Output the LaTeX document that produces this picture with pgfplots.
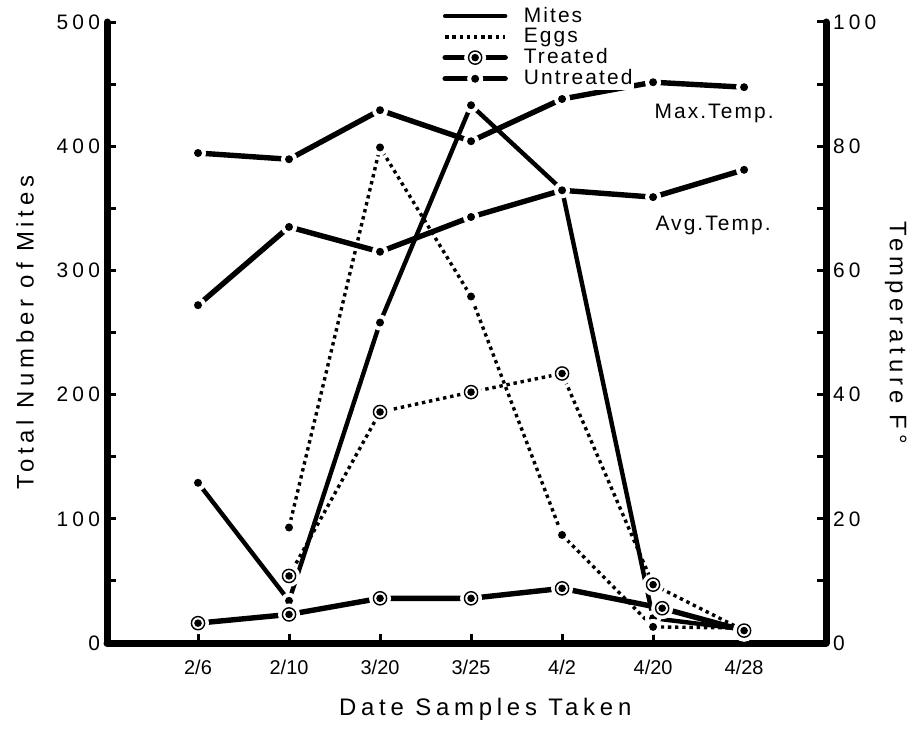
\documentclass[border=0pt]{standalone}
\usepackage{fontspec}
\setmainfont{Liberation Sans}
\newfontfamily\spaced{Liberation Sans}[LetterSpace=20]
\newfontfamily\lspaced{Liberation Sans}[LetterSpace=10]
\usepackage{pgfplots}
\pgfplotsset{compat=1.18}

% dot with a white ring round it (gaps in the line)
\pgfdeclareplotmark{hdot}{%
  \pgfsetfillcolor{white}%
  \pgfpathcircle{\pgfpointorigin}{4bp}\pgfusepath{fill}%
  \pgfsetfillcolor{black}%
  \pgfpathcircle{\pgfpointorigin}{2bp}\pgfusepath{fill}%
}
% circled dot with a white ring round it
\pgfdeclareplotmark{hcirc}{%
  \pgfsetfillcolor{white}%
  \pgfpathcircle{\pgfpointorigin}{5.5bp}\pgfusepath{fill}%
  \pgfsetdash{}{0pt}\pgfsetlinewidth{0.7bp}\pgfsetstrokecolor{black}%
  \pgfpathcircle{\pgfpointorigin}{3.3bp}\pgfusepath{stroke}%
  \pgfsetfillcolor{black}%
  \pgfpathcircle{\pgfpointorigin}{1.9bp}\pgfusepath{fill}%
}

\pgfplotsset{
  base/.style={
    width=359.5bp, height=310.5bp, scale only axis,
    xmin=-1, xmax=6.9, clip=false, axis on top,
    axis line style={line width=3.5bp, line cap=round},
    tick style={line width=1.5bp, black},
    tick align=inside,
    major tick length=4.5bp, minor tick length=4.5bp,
    /pgf/number format/assume math mode=true,
    yticklabel style={font=\spaced\fontsize{10.5}{12}\selectfont},
    label style={font=\spaced\fontsize{12}{14}\selectfont},
  },
  mites/.style={line width=2.2bp, line cap=round},
  eggs/.style={line width=1.7bp, dash pattern=on 1.7bp off 1.9bp},
  thick line/.style={line width=2.7bp, line cap=round},
}

\begin{document}
\begin{tikzpicture}
\begin{axis}[base,
  axis x line*=bottom, axis y line*=left,
  ymin=0, ymax=500,
  ytick={0,100,...,500}, minor ytick={50,150,...,450},
  xtick={0,...,6},
  xticklabels={2/6,2/10,3/20,3/25,4/2,4/20,4/28},
  xticklabel style={font=\fontsize{10}{12}\selectfont, yshift=-5bp},
  xlabel={Date Samples Taken},
  xlabel style={at={(axis description cs:0.526,0)}, anchor=center, yshift=-33bp},
  ylabel={Total Number of Mites},
  ylabel style={at={(axis description cs:-0.114,0.5)}, anchor=center},
]
\coordinate (SW) at (rel axis cs:0,0);
\coordinate (NE) at (rel axis cs:1,1);
% untreated mites
\addplot[mites, mark=hdot] coordinates {
  (0,129) (1,34) (2,258) (3,433) (4,365) (5,20) (6,11)};
% untreated eggs
\addplot[eggs, mark=hdot] coordinates {
  (1,93) (2,399) (3,279) (4,87) (5,13) (6,12)};
% treated mites
\addplot[thick line, mark=hcirc] coordinates {
  (0,16) (1,23) (2,36) (3,36) (4,44) (5.1,28) (6,10)};
% treated eggs
\addplot[eggs, mark=hcirc] coordinates {
  (1,54) (2,186) (3,202) (4,217) (5,47) (6,10)};
\end{axis}

\begin{axis}[base,
  axis x line=none, axis y line*=right,
  ymin=0, ymax=100,
  ytick={0,20,...,100}, minor ytick={10,30,...,90},
  ylabel={Temperature F°},
  ylabel style={at={(axis description cs:1.097,0.5)}, anchor=center, rotate=180},
  legend style={at={(axis description cs:0.466,1.028)}, anchor=north west,
    draw=none, fill=white, inner sep=0pt,
    font=\lspaced\fontsize{10.5}{11}\selectfont,
    nodes={inner sep=1bp}, row sep=-0.5bp,
    /tikz/every odd column/.append style={column sep=7bp}},
  legend cell align=left,
  legend image code/.code={%
    \draw[mark repeat=2,mark phase=2,#1]
      plot coordinates {(0bp,0bp) (15bp,0bp) (30bp,0bp)};},
]
% maximum and average temperature
\addplot[thick line, mark=hdot, forget plot] coordinates {
  (0,78.9) (1,77.9) (2,85.8) (3,80.8) (4,87.6) (5,90.3) (6,89.5)};
\addplot[thick line, mark=hdot, forget plot] coordinates {
  (0,54.4) (1,67.0) (2,63.0) (3,68.6) (4,72.9) (5,71.8) (6,76.2)};
\node[font=\lspaced\fontsize{10.5}{12}\selectfont] at (axis cs:5.67,85.3) {Max.Temp.};
\node[font=\lspaced\fontsize{10.5}{12}\selectfont] at (axis cs:5.66,67.2) {Avg.Temp.};
\addlegendimage{mites}
\addlegendentry{Mites}
\addlegendimage{eggs}
\addlegendentry{Eggs}
\addlegendimage{thick line, mark=hcirc}
\addlegendentry{Treated}
\addlegendimage{thick line, mark=hdot}
\addlegendentry{Untreated}
\end{axis}
\pgfresetboundingbox
\path[use as bounding box] ([shift={(-53.5bp,-43.5bp)}]SW) rectangle ([shift={(44.5bp,11bp)}]NE);
\end{tikzpicture}
\end{document}
